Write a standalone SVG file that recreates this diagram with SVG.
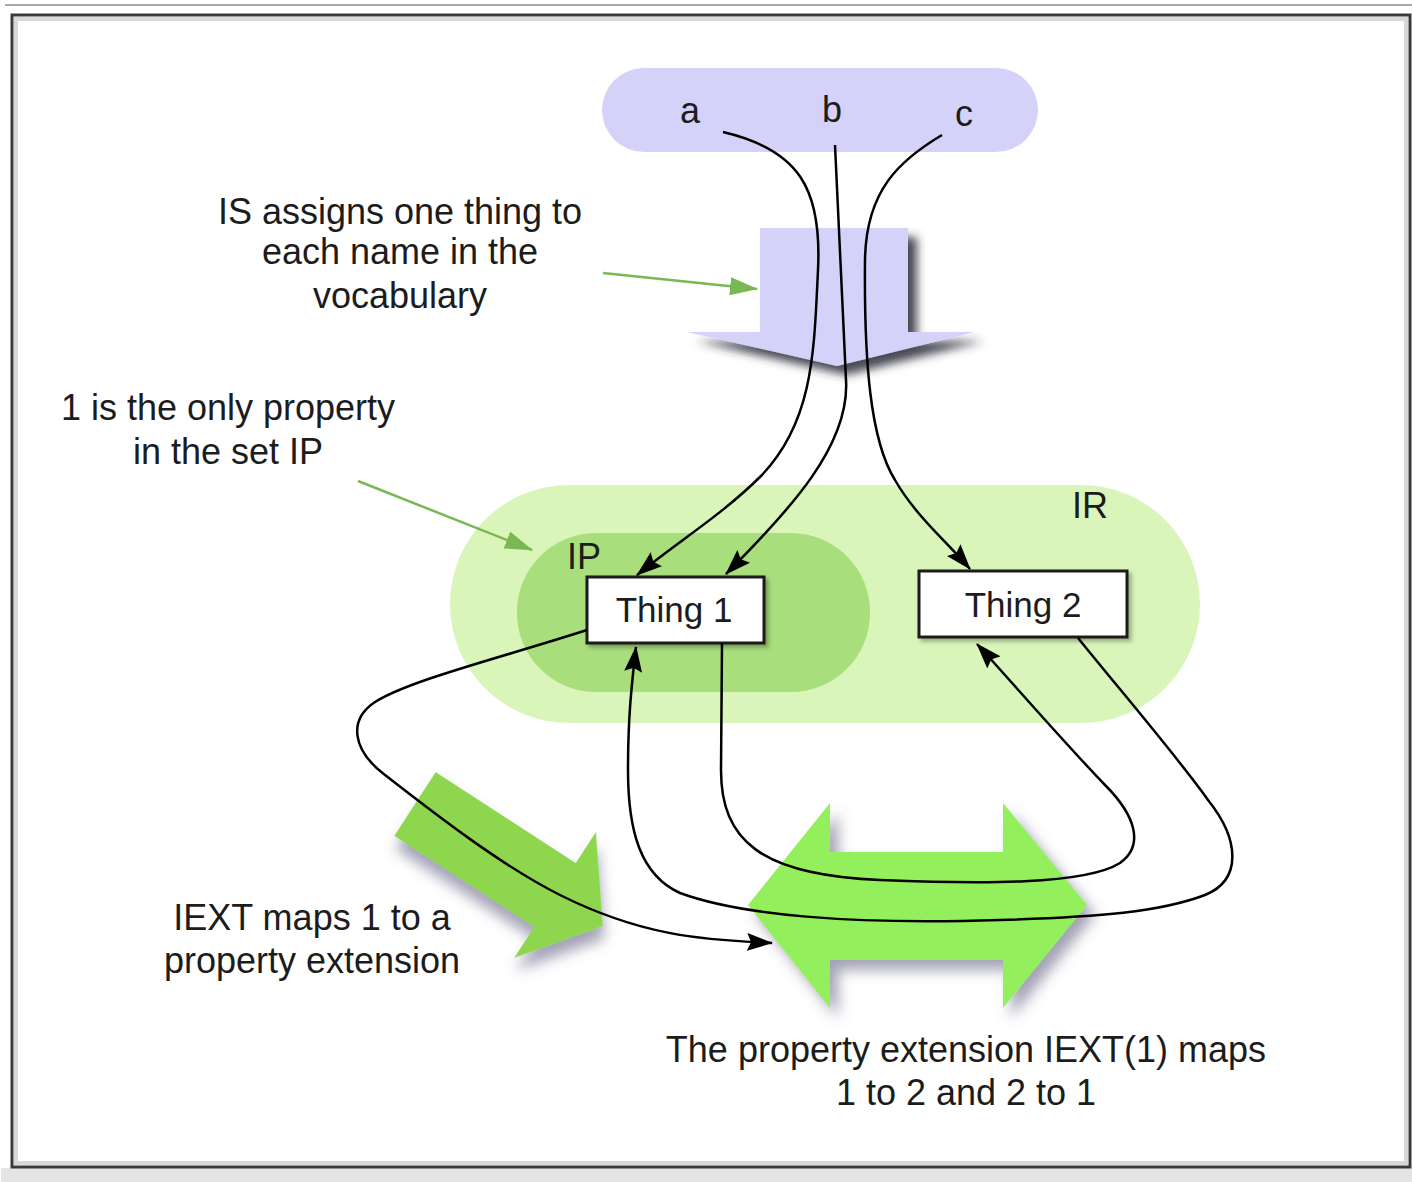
<svg xmlns="http://www.w3.org/2000/svg" width="1412" height="1182" viewBox="0 0 1412 1182">
<style>
text{font-family:"Liberation Sans",Arial,sans-serif;fill:#1c1c1c;font-size:36px}
.lbl{text-anchor:middle}
.conn{fill:none;stroke:#000;stroke-width:2.5}
.ptr{fill:none;stroke:#7ab854;stroke-width:2.5}
.box{fill:#fff;stroke:#1a1a1a;stroke-width:3}
</style>
<defs>
<marker id="ah" viewBox="0 0 26 18" refX="25" refY="9" markerWidth="26" markerHeight="18" markerUnits="userSpaceOnUse" orient="auto">
<path d="M0,0 L26,9 L0,18 L4,9 z" fill="#000"/>
</marker>
<marker id="gh" viewBox="0 0 28 18" refX="27" refY="9" markerWidth="28" markerHeight="18" markerUnits="userSpaceOnUse" orient="auto">
<path d="M0,0 L28,9 L0,18 z" fill="#7ab854"/>
</marker>
<filter id="sh" x="-20%" y="-20%" width="150%" height="160%">
<feDropShadow dx="9" dy="9" stdDeviation="5" flood-color="#2a2a3a" flood-opacity="0.85"/>
</filter>
<filter id="gsh" x="-20%" y="-20%" width="150%" height="160%">
<feDropShadow dx="8" dy="10" stdDeviation="7" flood-color="#55557a" flood-opacity="0.55"/>
</filter>
<filter id="bsh" x="-10%" y="-10%" width="130%" height="130%">
<feDropShadow dx="3" dy="3" stdDeviation="2" flood-color="#000" flood-opacity="0.3"/>
</filter>
</defs>

<!-- frame -->
<rect x="0" y="0" width="1412" height="1182" fill="#fff"/>
<line x1="5" y1="5" x2="1412" y2="5" stroke="#a8a8a8" stroke-width="2"/>
<rect x="1" y="1168" width="1411" height="14" fill="#e4e4e4"/>
<rect x="12" y="15" width="1398" height="1152" fill="#fff" stroke="#3a3a3a" stroke-width="3"/>
<rect x="16" y="19" width="1390" height="1144" fill="none" stroke="#d8d8d8" stroke-width="4"/>

<!-- vocabulary pill -->
<g id="vocab">
<rect x="602" y="68" width="436" height="84" rx="42" fill="#d5d2fa"/>
<text x="690" y="123" class="lbl">a</text>
<text x="832" y="122" class="lbl">b</text>
<text x="964" y="126" class="lbl">c</text>
</g>

<!-- IS down arrow -->
<g id="is-arrow">
<path d="M760,228 L908,228 L908,332 L975,332 L837,366 L687,332 L760,332 z" fill="#d5d2fa" filter="url(#sh)"/>
</g>

<!-- IR / IP sets -->
<g id="ir">
<rect x="450" y="485" width="750" height="238" rx="119" fill="#d9f5b9"/>
<text x="1090" y="518" class="lbl">IR</text>
</g>
<g id="ip">
<rect x="517" y="533" width="353" height="159" rx="79" fill="#a8de7c"/>
<text x="584" y="569" class="lbl">IP</text>
</g>

<g id="thing1">
<rect x="587" y="577" width="177" height="66" class="box" filter="url(#bsh)"/>
<text x="674" y="622" class="lbl" style="font-size:35px">Thing 1</text>
</g>
<g id="thing2">
<rect x="919" y="571" width="208" height="66" class="box" filter="url(#bsh)"/>
<text x="1023" y="617" class="lbl" style="font-size:35px">Thing 2</text>
</g>

<!-- IEXT arrow (diagonal) -->
<g id="iext-arrow">
<g transform="translate(415,804) rotate(33)" filter="url(#gsh)">
<path d="M0,-38 L167,-38 L167,-75 L224,0 L167,75 L167,38 L0,38 z" fill="#8fd64f"/>
</g>
</g>

<!-- double arrow -->
<g id="ext-arrow">
<path d="M748,905 L830,803 L830,852 L1003,852 L1003,803 L1087,905 L1003,1008 L1003,960 L830,960 L830,1008 z" fill="#93ef5c" filter="url(#gsh)"/>
</g>

<!-- labels -->
<g id="label-is">
<text x="400" y="224" class="lbl">IS assigns one thing to</text>
<text x="400" y="264" class="lbl">each name in the</text>
<text x="400" y="308" class="lbl">vocabulary</text>
</g>
<g id="label-ip">
<text x="228" y="420" class="lbl">1 is the only property</text>
<text x="228" y="464" class="lbl">in the set IP</text>
</g>
<g id="label-iext">
<text x="312" y="930" class="lbl">IEXT maps 1 to a</text>
<text x="312" y="973" class="lbl">property extension</text>
</g>
<g id="label-ext">
<text x="966" y="1062" class="lbl">The property extension IEXT(1) maps</text>
<text x="966" y="1105" class="lbl">1 to 2 and 2 to 1</text>
</g>

<!-- connectors -->
<g id="connectors">
<path class="ptr" d="M603,273 L757,289" marker-end="url(#gh)"/>
<path class="ptr" d="M358,481 L532,550" marker-end="url(#gh)"/>
<path class="conn" d="M723,132 C800,150 822,190 818,270 C814,350 814,420 762,475 C722,515 680,540 637,575" marker-end="url(#ah)"/>
<path class="conn" d="M835,145 L846,380 C850,445 790,510 726,574" marker-end="url(#ah)"/>
<path class="conn" d="M942,135 C900,160 866,190 865,260 C864,360 870,440 895,480 C915,515 945,540 970,569" marker-end="url(#ah)"/>
<path class="conn" d="M587,630 C500,658 410,680 375,702 C348,720 352,750 385,775 C430,810 500,865 560,895 C640,935 700,940 772,943" marker-end="url(#ah)"/>
<path class="conn" d="M722,643 L721,770 C721,840 760,875 880,880 C980,884 1085,885 1120,863 C1145,845 1135,815 1105,785 C1060,738 1010,680 977,644" marker-end="url(#ah)"/>
<path class="conn" d="M1078,638 C1120,690 1180,760 1208,800 C1240,840 1242,880 1205,895 C1160,912 1100,917 1000,920 C850,925 740,915 680,893 C640,875 628,830 628,770 C628,720 631,690 636,647" marker-end="url(#ah)"/>
</g>
</svg>
